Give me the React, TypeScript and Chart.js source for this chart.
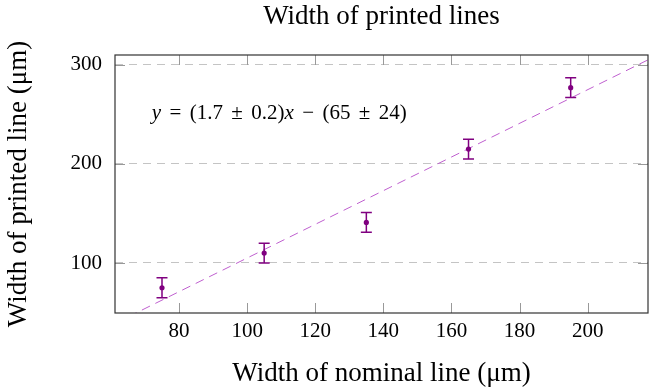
import React, { useEffect, useRef } from 'react';
import { Chart, registerables } from 'chart.js';

Chart.register(...registerables);

// ---- data ----
const nominalWidths = [75, 105, 135, 165, 195];
const printedWidths = [75, 110, 141, 215, 277];
const printedErrors = [10, 10, 10, 10, 10];
const fitSlope = 1.7;
const fitIntercept = -65;
const xTicks = [80, 100, 120, 140, 160, 180, 200];
const yTicks = [100, 200, 300];
const xRange = [61.2, 217.7];
const yRange = [49.5, 310];
const titleText = 'Width of printed lines';
const xTitle = 'Width of nominal line (\u03bcm)';
const yTitle = 'Width of printed line (\u03bcm)';
// [text, italic]
const equationParts: [string, boolean][] = [
  ['y', true], ['=', false], ['(1.7', false], ['\u00b1', false], ['0.2)', false],
  ['x', true], ['\u2212', false], ['(65', false], ['\u00b1', false], ['24)', false],
];
const equationAnchor = { x: 72, y: 251 };

const SERIF = '"Liberation Serif", "Times New Roman", serif';
const PURPLE = '#800080';
const FIT = '#bf5fcf';

export default function App() {
  const ref = useRef<HTMLCanvasElement>(null);

  useEffect(() => {
    document.body.style.margin = '0';
    const canvas = ref.current!;

    const errorBars = {
      id: 'errorBars',
      afterDatasetsDraw(chart: any) {
        const { ctx, scales } = chart;
        const xs = scales.x, ys = scales.y;
        ctx.save();
        ctx.strokeStyle = PURPLE;
        ctx.lineWidth = 1.5;
        nominalWidths.forEach((xv, i) => {
          const px = xs.getPixelForValue(xv);
          const top = ys.getPixelForValue(printedWidths[i] + printedErrors[i]);
          const bot = ys.getPixelForValue(printedWidths[i] - printedErrors[i]);
          ctx.beginPath();
          ctx.moveTo(px, top); ctx.lineTo(px, bot);
          ctx.moveTo(px - 5.5, top); ctx.lineTo(px + 5.5, top);
          ctx.moveTo(px - 5.5, bot); ctx.lineTo(px + 5.5, bot);
          ctx.stroke();
        });
        ctx.fillStyle = PURPLE;
        nominalWidths.forEach((xv, i) => {
          ctx.beginPath();
          ctx.arc(xs.getPixelForValue(xv), ys.getPixelForValue(printedWidths[i]), 2.6, 0, Math.PI * 2);
          ctx.fill();
        });
        ctx.restore();
      },
    };

    const frame = {
      id: 'frame',
      afterDraw(chart: any) {
        const { ctx, chartArea: a, scales } = chart;
        ctx.save();
        // ticks
        ctx.strokeStyle = '#999';
        ctx.lineWidth = 1;
        const tl = 10;
        ctx.beginPath();
        xTicks.forEach((t) => {
          const px = Math.round(scales.x.getPixelForValue(t)) + 0.5;
          ctx.moveTo(px, a.bottom); ctx.lineTo(px, a.bottom - tl);
          ctx.moveTo(px, a.top); ctx.lineTo(px, a.top + tl);
        });
        yTicks.forEach((t) => {
          const py = Math.round(scales.y.getPixelForValue(t)) + 0.5;
          ctx.moveTo(a.left, py); ctx.lineTo(a.left + tl, py);
          ctx.moveTo(a.right, py); ctx.lineTo(a.right - tl, py);
        });
        ctx.stroke();
        // border
        ctx.strokeStyle = '#333';
        ctx.lineWidth = 1.2;
        ctx.strokeRect(a.left, a.top, a.right - a.left, a.bottom - a.top);
        // title
        ctx.fillStyle = '#000';
        ctx.font = `27px ${SERIF}`;
        ctx.textAlign = 'center';
        ctx.textBaseline = 'middle';
        ctx.fillText(titleText, (a.left + a.right) / 2, 17);
        // equation
        const fs = 21;
        const targetWidth = 255;
        const fontOf = (it: boolean) => `${it ? 'italic ' : ''}${fs}px ${SERIF}`;
        let sum = 0;
        equationParts.forEach(([t, it]) => { ctx.font = fontOf(it); sum += ctx.measureText(t).width; });
        const gaps = [1, 1, 1, 1, 0, 1, 1, 1, 1];
        const nGaps = gaps.reduce((s, g) => s + g, 0);
        const gap = (targetWidth - sum) / nGaps;
        let cx = scales.x.getPixelForValue(equationAnchor.x);
        const cy = scales.y.getPixelForValue(equationAnchor.y);
        ctx.textAlign = 'left';
        ctx.textBaseline = 'middle';
        equationParts.forEach(([t, it], i) => {
          ctx.font = fontOf(it);
          ctx.fillText(t, cx, cy);
          cx += ctx.measureText(t).width + (i < gaps.length ? gaps[i] * gap : 0);
        });
        ctx.restore();
      },
    };

    const chart = new Chart(canvas, {
      type: 'scatter',
      data: {
        datasets: [
          {
            type: 'line',
            label: 'fit',
            data: xRange.map((x) => ({ x, y: fitSlope * x + fitIntercept })),
            borderColor: FIT,
            borderWidth: 1,
            borderDash: [9, 6],
            pointRadius: 0,
            fill: false,
          },
        ],
      },
      options: {
        animation: false,
        responsive: false,
        devicePixelRatio: 1,
        layout: { padding: { top: 55, right: 1, left: 0, bottom: 0 } },
        plugins: { legend: { display: false }, tooltip: { enabled: false }, title: { display: false } },
        scales: {
          x: {
            type: 'linear',
            min: xRange[0],
            max: xRange[1],
            afterBuildTicks: (s: any) => { s.ticks = xTicks.map((v) => ({ value: v })); },
            afterFit: (s: any) => { s.height = 77; },
            grid: { display: false, drawTicks: false },
            border: { display: false },
            ticks: { font: { family: SERIF, size: 21 }, color: '#000', padding: 6, maxRotation: 0 },
            title: { display: true, text: xTitle, font: { family: SERIF, size: 27 }, color: '#000', padding: { top: 0, bottom: 0 } },
          },
          y: {
            type: 'linear',
            min: yRange[0],
            max: yRange[1],
            afterBuildTicks: (s: any) => { s.ticks = yTicks.map((v) => ({ value: v })); },
            afterFit: (s: any) => { s.width = 115; },
            grid: { display: true, drawTicks: false, color: '#c4c4c4', lineWidth: 1 },
            border: { display: false, dash: [8, 6] },
            ticks: { font: { family: SERIF, size: 21 }, color: '#000', padding: 13 },
            title: { display: true, text: yTitle, font: { family: SERIF, size: 27 }, color: '#000', padding: { top: 3, bottom: 0 } },
          },
        },
      },
      plugins: [errorBars, frame],
    } as any);

    return () => chart.destroy();
  }, []);

  return (
    <div style={{ width: 649, height: 390 }}>
      <canvas ref={ref} width={649} height={390} style={{ display: 'block' }} />
    </div>
  );
}
